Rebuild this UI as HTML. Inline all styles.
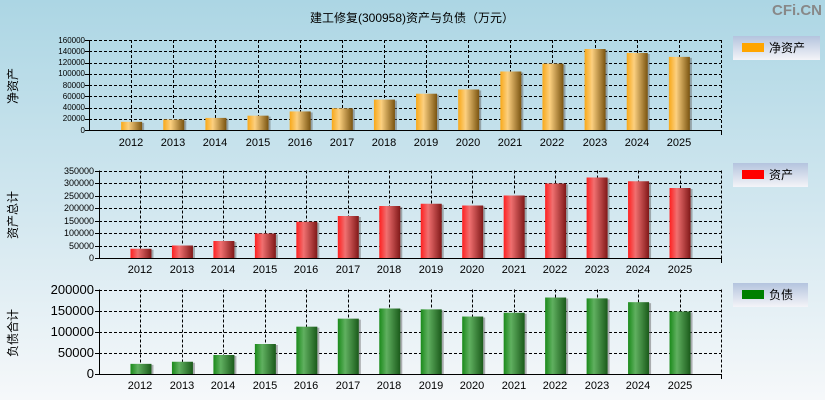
<!DOCTYPE html>
<html><head><meta charset="utf-8"><style>
html,body{margin:0;padding:0;}
body{width:825px;height:400px;overflow:hidden;background:linear-gradient(#acd6e4 0%,#d4e8f0 55%,#f6f8fa 100%);font-family:"Liberation Sans","Noto Sans CJK SC",sans-serif;}
svg{position:absolute;left:0;top:0;}
text{font-family:"Liberation Sans","Noto Sans CJK SC",sans-serif;}
</style></head><body>
<svg width="825" height="400" xmlns="http://www.w3.org/2000/svg">
<defs>
<linearGradient id="go" x1="0" x2="1"><stop offset="0" stop-color="#f8a818"/><stop offset="0.35" stop-color="#fcd080"/><stop offset="1" stop-color="#7a5410"/></linearGradient>
<linearGradient id="gr" x1="0" x2="1"><stop offset="0" stop-color="#ff2020"/><stop offset="0.35" stop-color="#f07070"/><stop offset="1" stop-color="#801818"/></linearGradient>
<linearGradient id="gg" x1="0" x2="1"><stop offset="0" stop-color="#1a8a1a"/><stop offset="0.35" stop-color="#60b060"/><stop offset="1" stop-color="#1a5a1a"/></linearGradient>
<linearGradient id="lg" x1="0" x2="0" y1="0" y2="1"><stop offset="0" stop-color="#b4c4de"/><stop offset="1" stop-color="#f4f4f8"/></linearGradient>
</defs>
<text x="412" y="22" font-size="12" text-anchor="middle">建工修复(300958)资产与负债（万元）</text>
<text x="822" y="15" font-size="15" font-weight="bold" fill="#888" text-anchor="end">CFi.CN</text>
<g id="p1"></g><g id="p2"></g><g id="p3"></g>
<text transform="translate(17,86) rotate(-90)" font-size="12" text-anchor="middle">净资产</text>
<text transform="translate(17,215) rotate(-90)" font-size="12" text-anchor="middle">资产总计</text>
<text transform="translate(17,333) rotate(-90)" font-size="12" text-anchor="middle">负债合计</text>
<rect x="733" y="36" width="87" height="24" fill="url(#lg)"/><rect x="742" y="43" width="22" height="9" fill="#ffa500"/><text x="769" y="52" font-size="12">净资产</text>
<rect x="733" y="163" width="75" height="24" fill="url(#lg)"/><rect x="742" y="170" width="22" height="9" fill="#ff0000"/><text x="769" y="179" font-size="12">资产</text>
<rect x="733" y="283" width="75" height="24" fill="url(#lg)"/><rect x="742" y="290" width="22" height="9" fill="#008000"/><text x="769" y="299" font-size="12">负债</text>
<g font-size="8" text-anchor="end">
<text x="85" y="43">160000</text><text x="85" y="54">140000</text><text x="85" y="65">120000</text><text x="85" y="76">100000</text><text x="85" y="88">80000</text><text x="85" y="99">60000</text><text x="85" y="110">40000</text><text x="85" y="121">20000</text><text x="85" y="133">0</text>
</g>
<g font-size="9" text-anchor="end">
<text x="94" y="174">350000</text><text x="94" y="186">300000</text><text x="94" y="199">250000</text><text x="94" y="211">200000</text><text x="94" y="224">150000</text><text x="94" y="236">100000</text><text x="94" y="249">50000</text><text x="94" y="261">0</text>
</g>
<g font-size="13" text-anchor="end">
<text x="94" y="294">200000</text><text x="94" y="315">150000</text><text x="94" y="336">100000</text><text x="94" y="357">50000</text><text x="94" y="378">0</text>
</g>
<g font-size="11" text-anchor="middle">
<text x="131" y="146">2012</text><text x="173" y="146">2013</text><text x="215" y="146">2014</text><text x="258" y="146">2015</text><text x="300" y="146">2016</text><text x="342" y="146">2017</text><text x="384" y="146">2018</text><text x="426" y="146">2019</text><text x="468" y="146">2020</text><text x="510" y="146">2021</text><text x="552" y="146">2022</text><text x="595" y="146">2023</text><text x="637" y="146">2024</text><text x="679" y="146">2025</text>
<text x="140" y="273">2012</text><text x="182" y="273">2013</text><text x="223" y="273">2014</text><text x="265" y="273">2015</text><text x="306" y="273">2016</text><text x="348" y="273">2017</text><text x="389" y="273">2018</text><text x="431" y="273">2019</text><text x="472" y="273">2020</text><text x="514" y="273">2021</text><text x="555" y="273">2022</text><text x="597" y="273">2023</text><text x="638" y="273">2024</text><text x="680" y="273">2025</text>
<text x="140" y="389">2012</text><text x="182" y="389">2013</text><text x="223" y="389">2014</text><text x="265" y="389">2015</text><text x="306" y="389">2016</text><text x="348" y="389">2017</text><text x="389" y="389">2018</text><text x="431" y="389">2019</text><text x="472" y="389">2020</text><text x="514" y="389">2021</text><text x="555" y="389">2022</text><text x="597" y="389">2023</text><text x="638" y="389">2024</text><text x="680" y="389">2025</text>
</g>
</svg>
<script>
var NS="http://www.w3.org/2000/svg";
function el(g,t,a){var e=document.createElementNS(NS,t);for(var k in a)e.setAttribute(k,a[k]);g.appendChild(e);return e;}
function panel(id,x0,x1,yt,yb,max,step,vals,fill){
 var g=document.getElementById(id),n=15,dx=(x1-x0)/n;
 var dash={stroke:"#000","stroke-width":1,"stroke-dasharray":"3,2",fill:"none"};
 for(var v=step;v<=max+1;v+=step){var y=Math.round(yb-(v/max)*(yb-yt))+0.5;el(g,"line",Object.assign({x1:x0,x2:x1,y1:y,y2:y},dash));}
 for(var i=1;i<=n;i++){var x=Math.round(x0+dx*i)+0.5;el(g,"line",Object.assign({x1:x,x2:x,y1:yt,y2:yb},dash));}
 for(var i=0;i<vals.length;i++){var c=x0+dx*(i+1),h=vals[i]/max*(yb-yt);
  el(g,"rect",{x:c-10+2,y:yb-h+1,width:21,height:h,fill:"#666",opacity:0.5});
  el(g,"rect",{x:c-10,y:yb-h,width:21,height:h,fill:fill});}
 el(g,"line",{x1:x0+0.5,x2:x0+0.5,y1:yt,y2:yb+1,stroke:"#000"});
 el(g,"line",{x1:x0-4,x2:x1,y1:yb+0.5,y2:yb+0.5,stroke:"#000"});
 for(var v=0;v<=max+1;v+=step){var y=Math.round(yb-(v/max)*(yb-yt))+0.5;el(g,"line",{x1:x0-4,x2:x0,y1:y,y2:y,stroke:"#000"});}
 el(g,"line",{x1:x1+0.5,x2:x1+0.5,y1:yb,y2:yb+5,stroke:"#000"});
}
panel("p1",89,721,40,130,160000,20000,[14500,18500,21500,25500,33000,38500,54000,64500,72000,104000,118000,144000,137000,130000],"url(#go)");
panel("p2",99,721,170.5,258,350000,50000,[37000,50000,68000,98000,145000,168000,208000,217000,210000,250000,298000,322000,307000,280000],"url(#gr)");
panel("p3",99,721,289.5,374,200000,50000,[24000,29000,45000,71000,112000,131000,155000,153000,136000,145000,181000,179000,170000,148000],"url(#gg)");
</script>
</body></html>
